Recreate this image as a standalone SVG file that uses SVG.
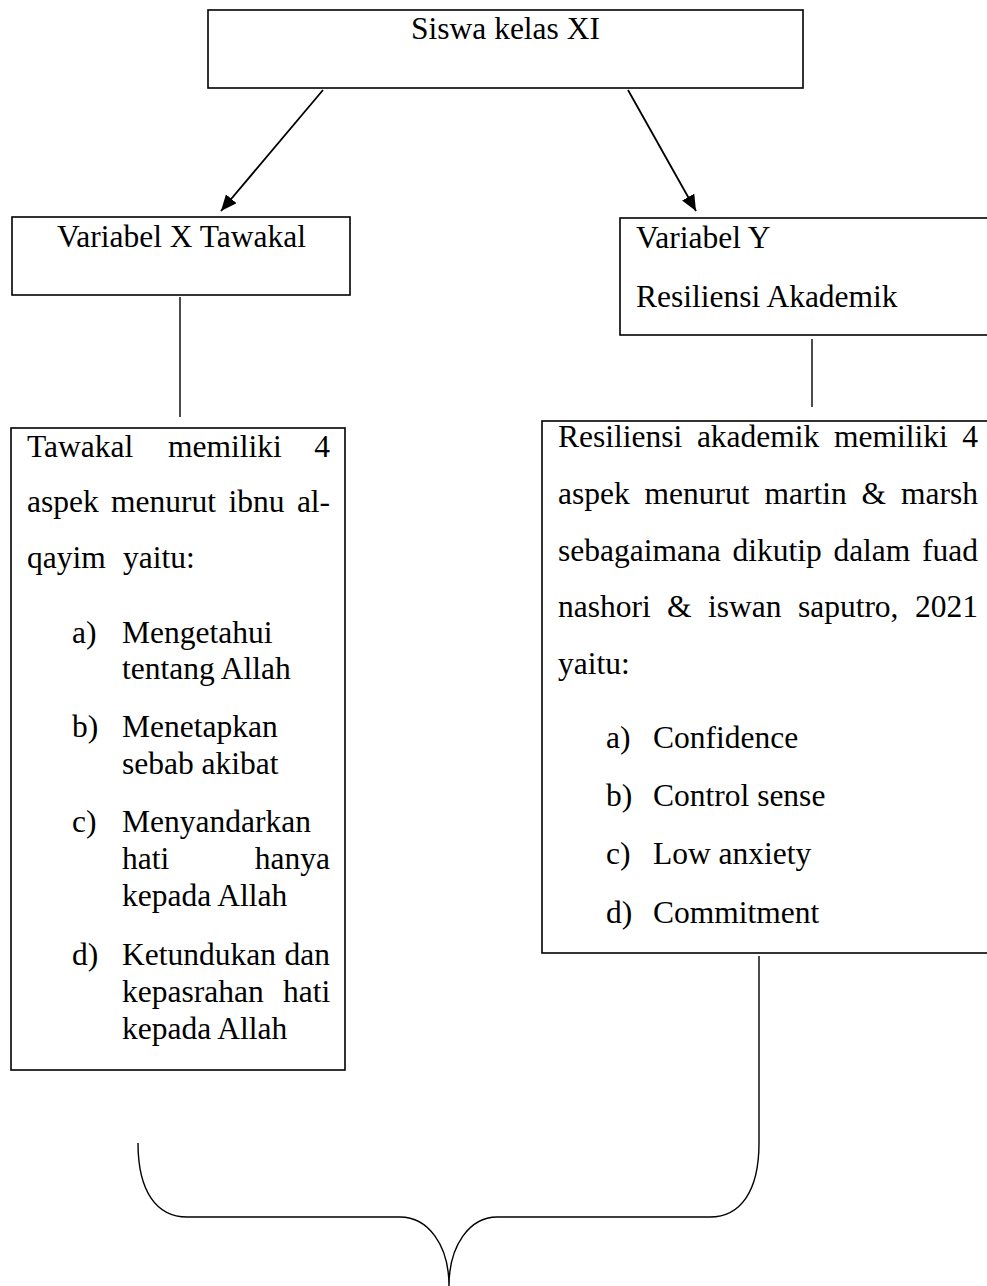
<svg xmlns="http://www.w3.org/2000/svg" width="987" height="1286" viewBox="0 0 987 1286">
<style>
  .box { fill: #ffffff; stroke: #000000; stroke-width: 1.6; }
  .t { font-family: "Liberation Serif", "Times New Roman", serif; font-size: 31.5px; fill: #000000; }
  .conn { fill: none; stroke: #000000; stroke-width: 1.4; }
  .arr { fill: none; stroke: #000000; stroke-width: 1.8; }
</style>
<defs>
  <marker id="ah" markerUnits="userSpaceOnUse" markerWidth="18" markerHeight="14" refX="16" refY="7" orient="auto">
    <path d="M0,0 L16,7 L0,14 Z" fill="#000000"/>
  </marker>
</defs>
<rect width="987" height="1286" fill="#ffffff"/>

<g id="connectors">
  <line class="arr" x1="323" y1="90" x2="221" y2="211" marker-end="url(#ah)"/>
  <line class="arr" x1="628" y1="90" x2="696" y2="211" marker-end="url(#ah)"/>
  <line class="conn" x1="180" y1="297" x2="180" y2="417"/>
  <line class="conn" x1="812" y1="339" x2="812" y2="407"/>
  <path class="conn" d="M759,956 L759,1143 C759,1192 740,1217 710,1217 L497,1217 C470,1217 449,1245 449,1286 C449,1245 428,1217 400,1217 L187,1217 C157,1217 138,1192 138,1143"/>
</g>

<g id="node-siswa">
  <rect class="box" x="208" y="10" width="595" height="78"/>
  <text class="t" x="505.5" y="39" text-anchor="middle">Siswa kelas XI</text>
</g>

<g id="node-varx">
  <rect class="box" x="12" y="217" width="338" height="78"/>
  <text class="t" x="181.5" y="247" text-anchor="middle">Variabel X Tawakal</text>
</g>

<g id="node-vary">
  <rect class="box" x="620" y="218" width="380" height="117"/>
  <text class="t" x="636" y="248">Variabel Y</text>
  <text class="t" x="636" y="307">Resiliensi Akademik</text>
</g>

<g id="node-tawakal-aspek">
  <rect class="box" x="11" y="428" width="334" height="642"/>
  <text class="t" y="457"><tspan x="27">Tawakal</tspan><tspan x="168">memiliki</tspan><tspan x="314.3">4</tspan></text>
  <text class="t" y="512"><tspan x="27">aspek</tspan><tspan x="111.1">menurut</tspan><tspan x="228.5">ibnu</tspan><tspan x="296.9">al-</tspan></text>
  <text class="t" y="568"><tspan x="27">qayim</tspan><tspan x="123">yaitu:</tspan></text>
  <text class="t" x="72" y="643">a)</text>
  <text class="t" x="122" y="643">Mengetahui</text>
  <text class="t" x="122" y="679">tentang Allah</text>
  <text class="t" x="72" y="737">b)</text>
  <text class="t" x="122" y="737">Menetapkan</text>
  <text class="t" x="122" y="774">sebab akibat</text>
  <text class="t" x="72" y="832">c)</text>
  <text class="t" x="122" y="832">Menyandarkan</text>
  <text class="t" y="869"><tspan x="122">hati</tspan><tspan x="254.8">hanya</tspan></text>
  <text class="t" x="122" y="906">kepada Allah</text>
  <text class="t" x="72" y="965">d)</text>
  <text class="t" y="965"><tspan x="122">Ketundukan</tspan><tspan x="284.5">dan</tspan></text>
  <text class="t" y="1002"><tspan x="122">kepasrahan</tspan><tspan x="283">hati</tspan></text>
  <text class="t" x="122" y="1039">kepada Allah</text>
</g>

<g id="node-resiliensi-aspek">
  <rect class="box" x="542" y="421" width="458" height="532"/>
  <text class="t" y="447"><tspan x="558">Resiliensi</tspan><tspan x="696.9">akademik</tspan><tspan x="834">memiliki</tspan><tspan x="962.3">4</tspan></text>
  <text class="t" y="504"><tspan x="558">aspek</tspan><tspan x="644.6">menurut</tspan><tspan x="764.5">martin</tspan><tspan x="861.6">&amp;</tspan><tspan x="901">marsh</tspan></text>
  <text class="t" y="561"><tspan x="558">sebagaimana</tspan><tspan x="732.4">dikutip</tspan><tspan x="833.4">dalam</tspan><tspan x="922">fuad</tspan></text>
  <text class="t" y="617"><tspan x="558">nashori</tspan><tspan x="667.1">&amp;</tspan><tspan x="708">iswan</tspan><tspan x="797.9">saputro,</tspan><tspan x="915">2021</tspan></text>
  <text class="t" x="558" y="674">yaitu:</text>
  <text class="t" x="606" y="748">a)</text>
  <text class="t" x="653" y="748">Confidence</text>
  <text class="t" x="606" y="806">b)</text>
  <text class="t" x="653" y="806">Control sense</text>
  <text class="t" x="606" y="864">c)</text>
  <text class="t" x="653" y="864">Low anxiety</text>
  <text class="t" x="606" y="923">d)</text>
  <text class="t" x="653" y="923">Commitment</text>
</g>
</svg>
